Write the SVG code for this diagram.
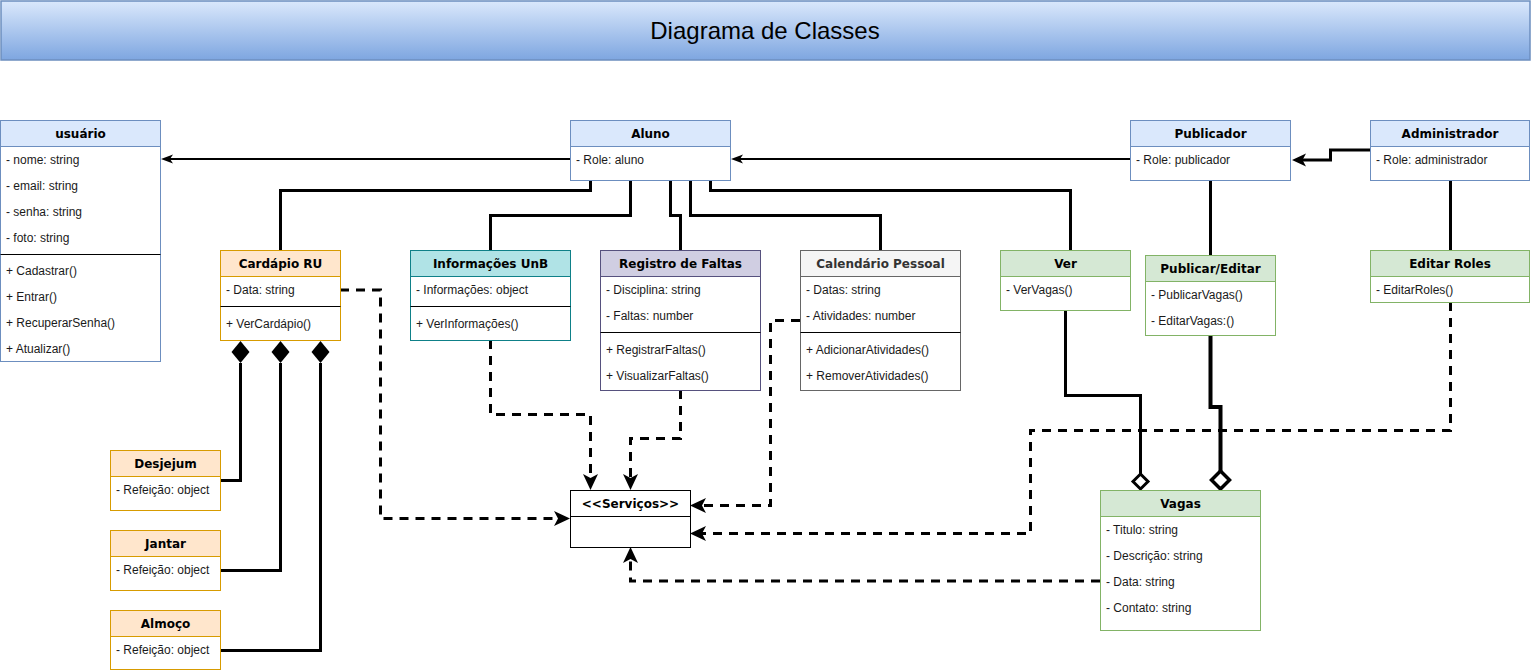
<svg xmlns="http://www.w3.org/2000/svg" width="1531" height="671" viewBox="0 0 1531 671">
<defs>
<linearGradient id="tg" x1="0" y1="0" x2="0" y2="1">
<stop offset="0" stop-color="#dae8fc"/>
<stop offset="1" stop-color="#7ea6e0"/>
</linearGradient>
<marker id="arrS" markerUnits="userSpaceOnUse" markerWidth="13" markerHeight="10" refX="4" refY="4.5" orient="auto">
<path d="M0,0 L12,4.5 L0,9 L3,4.5 Z" fill="#000"/>
</marker>
<marker id="arrM" markerUnits="userSpaceOnUse" markerWidth="15" markerHeight="14" refX="5" refY="6.5" orient="auto">
<path d="M0,0 L14,6.5 L0,13 L3.5,6.5 Z" fill="#000"/>
</marker>
<marker id="arrL" markerUnits="userSpaceOnUse" markerWidth="17" markerHeight="16" refX="6" refY="7.5" orient="auto">
<path d="M0,0 L16,7.5 L0,15 L4,7.5 Z" fill="#000"/>
</marker>
</defs>
<style>
.hdr{font-family:"DejaVu Sans",Verdana,sans-serif;font-weight:bold;font-size:12px;text-anchor:middle;fill:#000}
.att{font-family:"Liberation Sans",Arial,Helvetica,sans-serif;font-size:12px;fill:#1a1a1a}
.title{font-family:"Liberation Sans",Arial,Helvetica,sans-serif;font-size:24px;text-anchor:middle;fill:#000}
.body{fill:#fff}
.div{stroke:#000;stroke-width:1}
.blue{fill:#dae8fc;stroke:#6c8ebf}
.blueb{stroke:#6c8ebf}
.org{fill:#ffe6cc;stroke:#d79b00}
.orgb{stroke:#d79b00}
.teal{fill:#b0e3e6;stroke:#0e8088}
.tealb{stroke:#0e8088}
.pur{fill:#d0cee2;stroke:#56517e}
.purb{stroke:#56517e}
.gry{fill:#f5f5f5;stroke:#666666}
.gryb{stroke:#666666}
.grn{fill:#d5e8d4;stroke:#82b366}
.grnb{stroke:#82b366}
.blk{fill:#fff;stroke:#000}
.ln{fill:none;stroke:#000;stroke-width:3}
.thin{fill:none;stroke:#000;stroke-width:2}
.dash{fill:none;stroke:#000;stroke-width:3;stroke-dasharray:9 7}
</style>

<g id="title">
<rect x="1" y="1" width="1529" height="59" fill="url(#tg)" stroke="#6c8ebf" stroke-width="1.5"/>
<text class="title" x="765" y="38.5">Diagrama de Classes</text>
</g>

<g id="connectors">
<path class="thin" d="M570,159 H169" marker-end="url(#arrS)"/>
<path class="thin" d="M1130,159 H739" marker-end="url(#arrS)"/>
<path class="ln" d="M1370,150 H1330.5 V160 H1301" marker-end="url(#arrM)"/>
<path class="ln" d="M590.5,180 V190.5 H280.5 V250"/>
<path class="ln" d="M630.5,180 V215.5 H490.5 V250"/>
<path class="ln" d="M670.5,180 V215.5 H680.5 V250"/>
<path class="ln" d="M690.5,180 V215.5 H880.5 V250"/>
<path class="ln" d="M710.5,180 V190.5 H1070.5 V250"/>
<path class="ln" d="M1210.5,180 V255"/>
<path class="ln" d="M1450.5,180 V250"/>
<path class="ln" d="M240.5,363 V480.5 H220"/>
<path class="ln" d="M280.5,363 V570.5 H220"/>
<path class="ln" d="M320.5,363 V650.5 H220"/>
<polygon points="240.5,341 249.5,352 240.5,363 231.5,352" fill="#000"/>
<polygon points="280.5,341 289.5,352 280.5,363 271.5,352" fill="#000"/>
<polygon points="320.5,341 329.5,352 320.5,363 311.5,352" fill="#000"/>
<path class="ln" d="M1065.5,310 V395.5 H1140.5 V474"/>
<polygon points="1140.5,474 1148,481.5 1140.5,489 1133,481.5" fill="#fff" stroke="#000" stroke-width="3"/>
<path class="ln" style="stroke-width:4" d="M1210.5,335 V407 H1220.5 V471"/>
<polygon points="1220.5,471 1229.5,480 1220.5,489 1211.5,480" fill="#fff" stroke="#000" stroke-width="3.5"/>
<path class="dash" d="M340,290 H380.5 V518.5 H560" marker-end="url(#arrL)"/>
<path class="dash" d="M490.5,340 V414.5 H590.5 V480" marker-end="url(#arrL)"/>
<path class="dash" d="M680.5,390 V438.5 H630.5 V480" marker-end="url(#arrL)"/>
<path class="dash" d="M800,320.5 H770.5 V505.5 H700" marker-end="url(#arrL)"/>
<path class="dash" d="M1450.5,302 V430.5 H1030.5 V533.5 H700" marker-end="url(#arrL)"/>
<path class="dash" d="M1100,581 H630.5 V557" marker-end="url(#arrL)"/>
</g>

<g id="usuario">
<rect class="body blueb" x="0.5" y="120.5" width="160" height="241"/>
<rect class="blue" x="0.5" y="120.5" width="160" height="26"/>
<text class="hdr" x="80.5" y="137.5">usuário</text>
<text class="att" x="6" y="164">- nome: string</text>
<text class="att" x="6" y="190">- email: string</text>
<text class="att" x="6" y="216">- senha: string</text>
<text class="att" x="6" y="242">- foto: string</text>
<line class="div" x1="0.5" y1="254.5" x2="160.5" y2="254.5"/>
<text class="att" x="6" y="275">+ Cadastrar()</text>
<text class="att" x="6" y="301">+ Entrar()</text>
<text class="att" x="6" y="327">+ RecuperarSenha()</text>
<text class="att" x="6" y="353">+ Atualizar()</text>
</g>

<g id="aluno">
<rect class="body blueb" x="570.5" y="120.5" width="160" height="60"/>
<rect class="blue" x="570.5" y="120.5" width="160" height="26"/>
<text class="hdr" x="650.5" y="137.5">Aluno</text>
<text class="att" x="576" y="164">- Role: aluno</text>
</g>

<g id="publicador">
<rect class="body blueb" x="1130.5" y="120.5" width="160" height="60"/>
<rect class="blue" x="1130.5" y="120.5" width="160" height="26"/>
<text class="hdr" x="1210.5" y="137.5">Publicador</text>
<text class="att" x="1136" y="164">- Role: publicador</text>
</g>

<g id="administrador">
<rect class="body blueb" x="1370.5" y="120.5" width="159" height="60"/>
<rect class="blue" x="1370.5" y="120.5" width="159" height="26"/>
<text class="hdr" x="1450" y="137.5">Administrador</text>
<text class="att" x="1376" y="164">- Role: administrador</text>
</g>

<g id="cardapio">
<rect class="body orgb" x="220.5" y="250.5" width="120" height="90"/>
<rect class="org" x="220.5" y="250.5" width="120" height="26"/>
<text class="hdr" x="280.5" y="267.5">Cardápio RU</text>
<text class="att" x="226" y="294">- Data: string</text>
<line class="div" x1="220.5" y1="306.5" x2="340.5" y2="306.5"/>
<text class="att" x="226" y="328">+ VerCardápio()</text>
</g>

<g id="informacoes">
<rect class="body tealb" x="410.5" y="250.5" width="160" height="90"/>
<rect class="teal" x="410.5" y="250.5" width="160" height="26"/>
<text class="hdr" x="490.5" y="267.5">Informações UnB</text>
<text class="att" x="416" y="294">- Informações: object</text>
<line class="div" x1="410.5" y1="306.5" x2="570.5" y2="306.5"/>
<text class="att" x="416" y="328">+ VerInformações()</text>
</g>

<g id="registro">
<rect class="body purb" x="600.5" y="250.5" width="160" height="140"/>
<rect class="pur" x="600.5" y="250.5" width="160" height="26"/>
<text class="hdr" x="680.5" y="267.5">Registro de Faltas</text>
<text class="att" x="606" y="294">- Disciplina: string</text>
<text class="att" x="606" y="320">- Faltas: number</text>
<line class="div" x1="600.5" y1="332.5" x2="760.5" y2="332.5"/>
<text class="att" x="606" y="354">+ RegistrarFaltas()</text>
<text class="att" x="606" y="380">+ VisualizarFaltas()</text>
</g>

<g id="calendario">
<rect class="body gryb" x="800.5" y="250.5" width="160" height="140"/>
<rect class="gry" x="800.5" y="250.5" width="160" height="26"/>
<text class="hdr" x="880.5" y="267.5" style="fill:#333333">Calendário Pessoal</text>
<text class="att" x="806" y="294">- Datas: string</text>
<text class="att" x="806" y="320">- Atividades: number</text>
<line class="div" x1="800.5" y1="332.5" x2="960.5" y2="332.5"/>
<text class="att" x="806" y="354">+ AdicionarAtividades()</text>
<text class="att" x="806" y="380">+ RemoverAtividades()</text>
</g>

<g id="ver">
<rect class="body grnb" x="1000.5" y="250.5" width="130" height="60"/>
<rect class="grn" x="1000.5" y="250.5" width="130" height="26"/>
<text class="hdr" x="1065.5" y="267.5">Ver</text>
<text class="att" x="1006" y="294">- VerVagas()</text>
</g>

<g id="publicar-editar">
<rect class="body grnb" x="1145.5" y="255.5" width="130" height="80"/>
<rect class="grn" x="1145.5" y="255.5" width="130" height="26"/>
<text class="hdr" x="1210.5" y="272.5">Publicar/Editar</text>
<text class="att" x="1151" y="299">- PublicarVagas()</text>
<text class="att" x="1151" y="325">- EditarVagas:()</text>
</g>

<g id="editar-roles">
<rect class="body grnb" x="1370.5" y="250.5" width="159" height="52"/>
<rect class="grn" x="1370.5" y="250.5" width="159" height="26"/>
<text class="hdr" x="1450" y="267.5">Editar Roles</text>
<text class="att" x="1376" y="294">- EditarRoles()</text>
</g>

<g id="vagas">
<rect class="body grnb" x="1100.5" y="490.5" width="160" height="140"/>
<rect class="grn" x="1100.5" y="490.5" width="160" height="26"/>
<text class="hdr" x="1180.5" y="507.5">Vagas</text>
<text class="att" x="1106" y="534">- Titulo: string</text>
<text class="att" x="1106" y="560">- Descrição: string</text>
<text class="att" x="1106" y="586">- Data: string</text>
<text class="att" x="1106" y="612">- Contato: string</text>
</g>

<g id="servicos">
<rect class="blk" x="570.5" y="490.5" width="120" height="57"/>
<line class="div" x1="570.5" y1="516.5" x2="690.5" y2="516.5"/>
<text class="hdr" x="630.5" y="507.5">&lt;&lt;Serviços&gt;&gt;</text>
</g>

<g id="desjejum">
<rect class="body orgb" x="110.5" y="450.5" width="110" height="60"/>
<rect class="org" x="110.5" y="450.5" width="110" height="26"/>
<text class="hdr" x="165.5" y="467.5">Desjejum</text>
<text class="att" x="116" y="494">- Refeição: object</text>
</g>

<g id="jantar">
<rect class="body orgb" x="110.5" y="530.5" width="110" height="60"/>
<rect class="org" x="110.5" y="530.5" width="110" height="26"/>
<text class="hdr" x="165.5" y="547.5">Jantar</text>
<text class="att" x="116" y="574">- Refeição: object</text>
</g>

<g id="almoco">
<rect class="body orgb" x="110.5" y="610.5" width="110" height="59"/>
<rect class="org" x="110.5" y="610.5" width="110" height="26"/>
<text class="hdr" x="165.5" y="627.5">Almoço</text>
<text class="att" x="116" y="654">- Refeição: object</text>
</g>
</svg>
